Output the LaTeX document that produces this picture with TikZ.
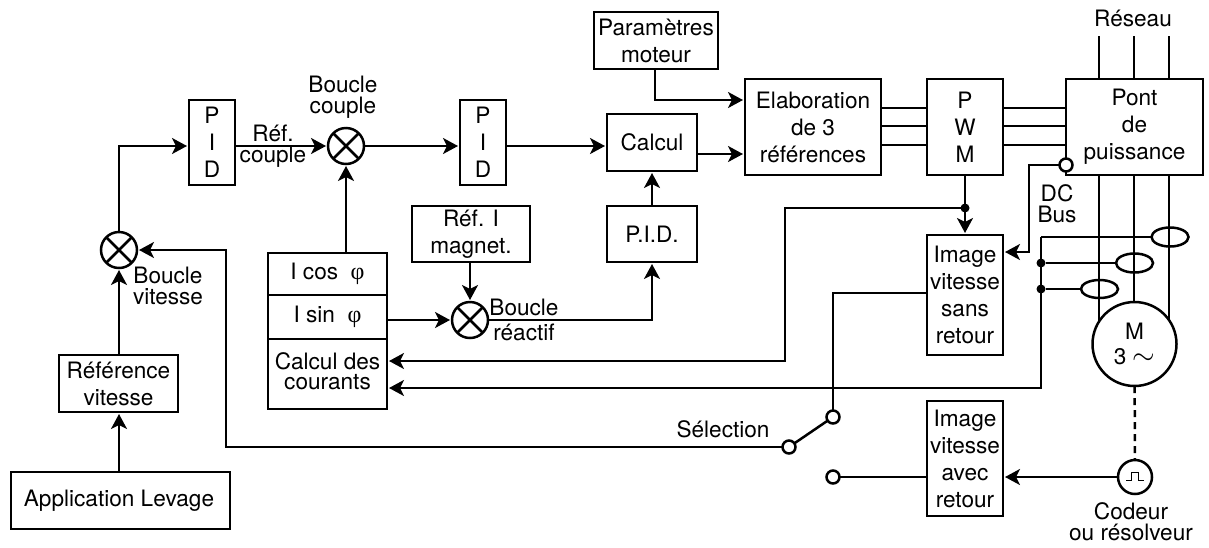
\documentclass[tikz,border=0pt]{standalone}
\usepackage{fontspec}
\setmainfont{TeX Gyre Heros}
\newfontfamily\phifont{Liberation Serif}
\usetikzlibrary{arrows.meta,shapes.geometric}
\newcommand{\fs}[1]{\fontsize{22.6}{#1}\selectfont}
\newcommand{\ph}{{\phifont\fontsize{24}{27}\selectfont φ}}
\tikzset{
  wire/.style={line width=2.5pt,line join=miter},
  arr/.style={wire,-{Stealth[length=15pt,width=16pt,inset=4pt]},shorten >=2pt},
  box/.style={draw,line width=2.6pt,inner sep=0pt,outer sep=0pt,align=center,font=\fs{27}},
  lbl/.style={inner sep=0pt,outer sep=0pt,align=center,font=\fs{21}},
  sumj/.style={draw,circle,line width=2.5pt,minimum size=36pt,inner sep=0pt,outer sep=0pt,
    path picture={\draw[line width=2.5pt] (path picture bounding box.north west)--(path picture bounding box.south east)
      (path picture bounding box.north east)--(path picture bounding box.south west);}},
  term/.style={draw,circle,fill=white,line width=2.5pt,minimum size=13pt,inner sep=0pt,outer sep=0pt},
  dotn/.style={circle,fill=black,minimum size=9pt,inner sep=0pt,outer sep=0pt},
  sens/.style={draw,ellipse,line width=2.5pt,inner sep=0pt,outer sep=0pt}
}
\newcommand{\bx}[6]{\node[box,minimum width={(#4-#2)*1pt},minimum height={(#5-#3)*1pt}] (#1) at ({(#2+#4)/2},{(#3+#5)/2}) {#6};}
\begin{document}
\begin{tikzpicture}[x=1pt,y=-1pt]
\useasboundingbox (0,0) rectangle (1209,547);
% boxes
\bx{app}{11}{472}{230}{529}{\hspace*{-3pt}Application Levage}
\bx{ref}{59}{355}{178}{412}{Référence\\vitesse}
\bx{pida}{189}{100}{235}{185}{P\\I\\D}
\bx{pidb}{460}{100}{506}{185}{P\\I\\D}
\bx{calc}{607}{114}{697}{171}{Calcul}
\bx{pidc}{607}{206}{697}{262}{P.I.D.}
\bx{param}{594}{12}{718}{69}{Paramètres\\moteur}
\bx{elab}{745}{79}{881}{175}{Elaboration\\de 3\\références}
\bx{pwm}{927}{79}{1003}{175}{P\\W\\M}
\bx{pont}{1066}{79}{1203}{175}{Pont\\de\\puissance}
\bx{refi}{412}{206}{530}{262}{Réf. I\\magnet.}
\bx{icos}{268}{253}{387}{295}{I cos\ \ \ph}
\bx{isin}{268}{295}{387}{339}{I sin\ \ \ph}
\bx{ical}{268}{339}{387}{409}{\fs{21}\raisebox{3pt}{\begin{tabular}{@{}c@{}}Calcul des\\[-1pt]courants\end{tabular}}}
\bx{imga}{927}{235}{1003}{355}{Image\\vitesse\\sans\\retour}
\bx{imgb}{927}{401}{1003}{516}{Image\\vitesse\\avec\\retour}
% junctions
\node[sumj] (sa) at (119,250) {};
\node[sumj] (sb) at (346,146) {};
\node[sumj] (sc) at (470,320) {};
\node[dotn] (da) at (965,208) {};
\node[dotn] (db) at (1041,263) {};
\node[dotn] (dc) at (1041,289) {};
\node[sens,minimum width=37pt,minimum height=19pt] (ea) at (1170,237) {};
\node[sens,minimum width=37pt,minimum height=19pt] (eb) at (1134.5,263) {};
\node[sens,minimum width=37pt,minimum height=18pt] (ec) at (1099.5,289) {};
\node[term] (tdc) at (1066,165) {};
\node[term] (tp) at (789,447) {};
\node[term] (tu) at (833,417) {};
\node[term] (tl) at (833,477) {};
\node[draw,circle,fill=white,line width=2.5pt,minimum size=34pt,inner sep=0pt,outer sep=0pt] (enc) at (1135,477) {};
% free ends
\coordinate (ra) at (1099,36);
\coordinate (rb) at (1134,36);
\coordinate (rc) at (1169,36);
\coordinate (ma) at (1099,340);
\coordinate (mb) at (1134,340);
\coordinate (mc) at (1169,340);
\coordinate (ba) at (1041,237);
% connectors
\draw[arr] (app.north -| sa) -- (ref.south -| sa);
\draw[arr] (ref.north -| sa) -- (sa);
\draw[arr] (sa) -- (119,146) -- (pida.west |- 0,146);
\draw[arr] (pida.east |- 0,146) -- (sb);
\draw[arr] (sb) -- (pidb.west |- 0,146);
\draw[arr] (pidb.east |- 0,146) -- (calc.west |- 0,146);
\draw[arr] (calc.east |- 0,154) -- (elab.west |- 0,154);
\draw[arr] (param.south -| 655,0) -- (655,100) -- (elab.west |- 0,100);
\draw[arr] (pidc.north -| 652,0) -- (calc.south -| 652,0);
\draw[arr] (icos.north -| sb) -- (sb);
\draw[arr] (refi.south -| sc) -- (sc);
\draw[arr] (isin.east |- sc) -- (sc);
\draw[arr] (sc) -- (652,320) -- (pidc.south -| 652,0);
\draw[wire] (elab.east |- 0,108) -- (pwm.west |- 0,108);
\draw[wire] (elab.east |- 0,126) -- (pwm.west |- 0,126);
\draw[wire] (elab.east |- 0,145) -- (pwm.west |- 0,145);
\draw[wire] (pwm.east |- 0,108) -- (pont.west |- 0,108);
\draw[wire] (pwm.east |- 0,126) -- (pont.west |- 0,126);
\draw[wire] (pwm.east |- 0,145) -- (pont.west |- 0,145);
\draw[wire] (ra) -- (pont.north -| ra);
\draw[wire] (rb) -- (pont.north -| rb);
\draw[wire] (rc) -- (pont.north -| rc);
\draw[wire] (pont.south -| ra) -- (ma);
\draw[wire] (pont.south -| rb) -- (mb);
\draw[wire] (pont.south -| rc) -- (mc);
\draw[arr] (pwm.south -| da) -- (imga.north -| da);
\draw[arr] (da) -- (785,208) -- (785,361) -- (ical.east |- 0,361);
\draw[arr] (tdc) -- (1029,165) -- (1029,252) -- (imga.east |- 0,252);
\draw[arr] (ba) -- (dc.center) -- (1041,388) -- (ical.east |- 0,388);
\draw[wire] (ba) -- (ea.west);
\draw[wire] (db) -- (eb.west);
\draw[wire] (dc) -- (ec.west);
\draw[wire] (imga.west |- 0,293) -- (833,293) -- (tu);
\draw[wire] (tu) -- (tp);
\draw[arr] (tp) -- (226,447) -- (226,250) -- (sa);
\draw[wire] (imgb.west |- tl) -- (tl);
\draw[arr] (enc) -- (imgb.east |- enc);
% motor
\node[draw,circle,fill=white,line width=2.5pt,minimum size=84pt,inner sep=0pt,outer sep=0pt,align=center,font=\fs{25}] (mot) at (1134.5,344) {M\\3 \scalebox{1.4}{$\sim$}};
\draw[wire,dashed,dash pattern=on 7pt off 5pt] (mot) -- (enc);
\draw[line width=1pt] ([shift={(-9,3)}]enc.center) -- ++(5,0) -- ++(0,-8) -- ++(7,0) -- ++(0,8) -- ++(6,0);
% labels
\node[lbl] (lres) at (1133,18) {Réseau};
\node[lbl] (lbc) at (343,97) {Boucle\\couple};
\node[lbl] (lrc) at (273,146) {Réf.\\couple};
\node[lbl] (lbv) at (168,286) {Boucle\\vitesse};
\node[lbl,font=\fs{25}] (lbr) at (524,320) {Boucle\\réactif};
\node[lbl] (ldc) at (1057,204) {DC\\Bus};
\node[lbl] (lsel) at (723,429) {Sélection};
\node[lbl] (lcod) at (1131,522) {Codeur\\ou résolveur};
\end{tikzpicture}
\end{document}
